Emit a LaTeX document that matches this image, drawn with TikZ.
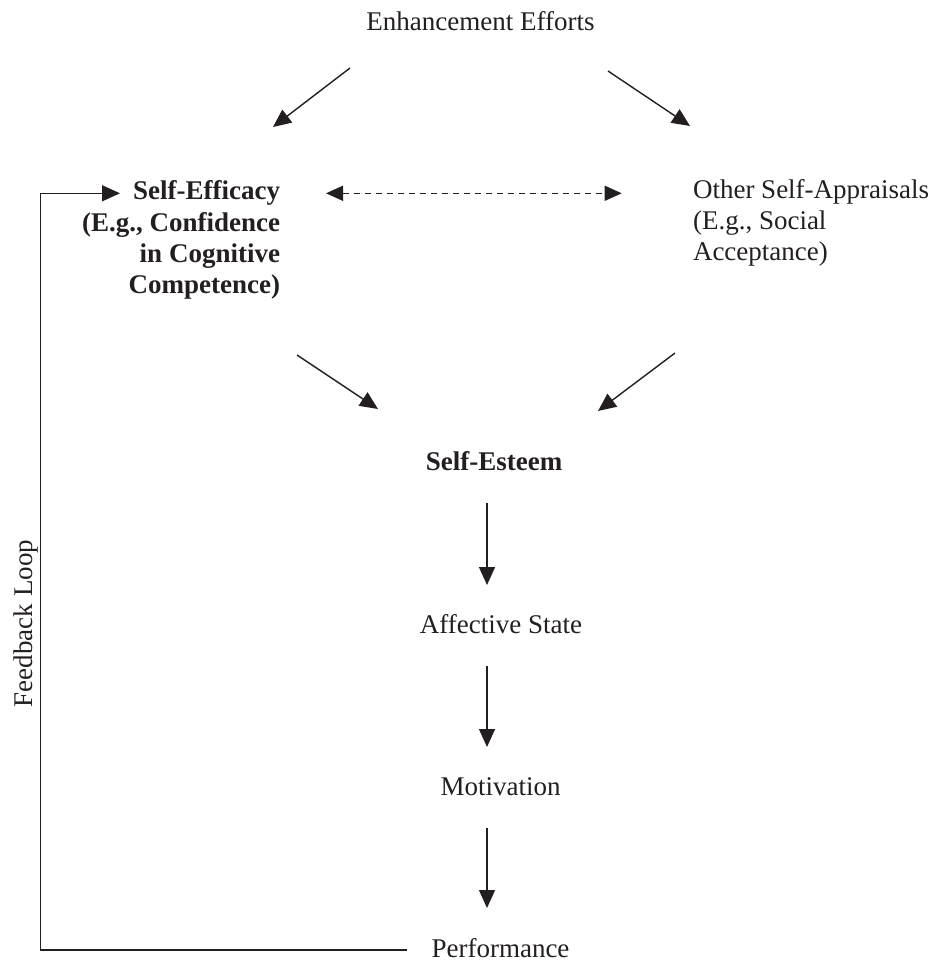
\documentclass[tikz,border=0pt]{standalone}
\usepackage{fontspec}
\setmainfont{Liberation Serif}
\usetikzlibrary{arrows.meta}
\definecolor{ink}{HTML}{231F20}
\begin{document}
\begin{tikzpicture}[x=1pt,y=-1pt,
  every node/.style={inner sep=0pt,outer sep=0pt,text=ink,
    font=\fontsize{27pt}{31pt}\selectfont},
  lbl/.style={},
  boldlbl/.style={font=\fontsize{27pt}{31pt}\selectfont\bfseries},
  conn/.style={draw=ink,line width=1.4pt,
    -{Triangle[length=18pt,width=16pt]}},
  dconn/.style={draw=ink,line width=1.4pt,dash pattern=on 6.5pt off 4.5pt,
    {Triangle[length=17pt,width=15pt]}-{Triangle[length=17pt,width=15pt]}}]
\useasboundingbox (0,0) rectangle (934,965);

% labels (multi-line nodes are placed by the baseline of their last line)
\node[lbl,anchor=base] (ee) at (480.5,30.7) {Enhancement Efforts};
\node[boldlbl,anchor=base east,align=right] (sef) at (280,293)
  {Self-Efficacy\\(E.g., Confidence\\in Cognitive\\Competence)};
\node[lbl,anchor=base west,align=left] (osa) at (693,261)
  {Other Self-Appraisals\\(E.g., Social\\Acceptance)};
\node[boldlbl,anchor=base] (se) at (494,470.7) {Self-Esteem};
\node[lbl,anchor=base] (as) at (501,633) {Affective State};
\node[lbl,anchor=base] (mo) at (500.5,795) {Motivation};
\node[lbl,anchor=base] (pe) at (500.5,957) {Performance};
\node[lbl,anchor=base,rotate=90] (fb) at (32,623.5) {Feedback Loop};

% enhancement efforts feed both kinds of self-appraisal
\draw[conn] ([shift={(-130.5,37.3)}]ee.base) -- ([shift={(-7,-166)}]sef.base east);
\draw[conn] ([shift={(127.5,40.3)}]ee.base) -- ([shift={(-3,-135)}]osa.base west);

% mutual influence between the appraisals
\draw[dconn] ([shift={(46,-99.7)}]sef.base east) -- ([shift={(-71.3,-67.7)}]osa.base west);

% both appraisals shape self-esteem
\draw[conn] ([shift={(17,62)}]sef.base east) -- ([shift={(-116,-61.7)}]se.base);
\draw[conn] ([shift={(-18,92)}]osa.base west) -- ([shift={(104,-59.7)}]se.base);

% downward chain
\draw[conn] ([shift={(-7,32.3)}]se.base) -- ([shift={(-14,-48)}]as.base);
\draw[conn] ([shift={(-14,33)}]as.base) -- ([shift={(-13.5,-48)}]mo.base);
\draw[conn] ([shift={(-13.5,33)}]mo.base) -- ([shift={(-13.5,-49)}]pe.base);

% feedback loop back to self-efficacy
\draw[conn] ([shift={(-93.5,-7)}]pe.base) -- ++(-366.5,0)
  |- ([shift={(-160,-99.7)}]sef.base east);
\end{tikzpicture}
\end{document}
